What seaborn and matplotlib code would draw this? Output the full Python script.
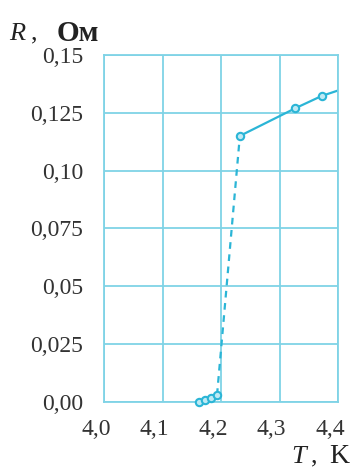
import matplotlib
matplotlib.use("Agg")
import matplotlib.pyplot as plt
import matplotlib.transforms as mtransforms
import seaborn as sns
import pandas as pd

# data
T_low = [4.163, 4.173, 4.183, 4.193]
R_low = [0.0, 0.001, 0.0015, 0.003]
T_jump = [4.193, 4.232]
R_jump = [0.003, 0.115]
T_high = [4.232, 4.327, 4.372]
R_high = [0.115, 0.127, 0.1323]
T_line_end = 4.41
R_line_end = 0.1355

x_ticks = [4.0, 4.1, 4.2, 4.3, 4.4]
y_ticks = [0.0, 0.025, 0.05, 0.075, 0.10, 0.125, 0.15]
x_labels = ["4,0", "4,1", "4,2", "4,3", "4,4"]
y_labels = ["0,00", "0,025", "0,05", "0,075", "0,10", "0,125", "0,15"]

sns.set_style("white")
plt.rcParams["font.family"] = ["Liberation Serif", "DejaVu Serif"]

cyan = "#2bb5d6"
grid_c = "#7fd3e6"
txt_c = "#333333"

fig = plt.figure(figsize=(3.64, 4.70), dpi=100)
ax = fig.add_axes([0.286, 0.145, 0.643, 0.738])

solid = pd.DataFrame({"T": T_high + [T_line_end], "R": R_high + [R_line_end]})
dashed = pd.DataFrame({"T": T_jump, "R": R_jump})
low = pd.DataFrame({"T": T_low, "R": R_low})
pts = pd.DataFrame({"T": T_low + T_high, "R": R_low + R_high})

sns.lineplot(data=solid, x="T", y="R", ax=ax, color=cyan, lw=1.6)
sns.lineplot(data=dashed, x="T", y="R", ax=ax, color=cyan, lw=1.6, ls=(0, (3, 2.5)))
sns.lineplot(data=low, x="T", y="R", ax=ax, color=cyan, lw=1.6)
sns.scatterplot(data=pts, x="T", y="R", ax=ax, s=28, marker="o",
                facecolor="#bfeaf4", edgecolor=cyan, linewidth=1.5,
                zorder=5, clip_on=False)

ax.set_xlim(4.0, 4.4)
ax.set_ylim(0, 0.15)
ax.set_xticks(x_ticks)
ax.set_xticklabels(x_labels)
ax.set_yticks(y_ticks)
ax.set_yticklabels(y_labels)
ax.tick_params(length=0, labelsize=17, colors=txt_c)
ax.tick_params(axis="y", pad=15)
ax.tick_params(axis="x", pad=12)
# x labels in the original sit a bit left of their gridlines
shift = mtransforms.ScaledTranslation(-8 / 100, 0, fig.dpi_scale_trans)
for lab in ax.get_xticklabels():
    lab.set_transform(lab.get_transform() + shift)
ax.grid(True, color=grid_c, lw=1.3)
ax.set_axisbelow(True)
for s in ax.spines.values():
    s.set_color(grid_c)
    s.set_linewidth(1.3)
ax.set_xlabel("")
ax.set_ylabel("")

# axis titles
fig.text(0.025, 0.915, "R", fontsize=19, fontstyle="italic", color="#222222")
fig.text(0.085, 0.915, ",", fontsize=19, color="#222222")
fig.text(0.155, 0.913, "Ом", fontsize=21, fontweight="bold", color="#222222")
fig.text(0.80, 0.015, "T", fontsize=19, fontstyle="italic", color="#222222")
fig.text(0.855, 0.015, ",", fontsize=19, color="#222222")
fig.text(0.905, 0.015, "K", fontsize=20, color="#222222")

plt.savefig("out.png", dpi=100)
